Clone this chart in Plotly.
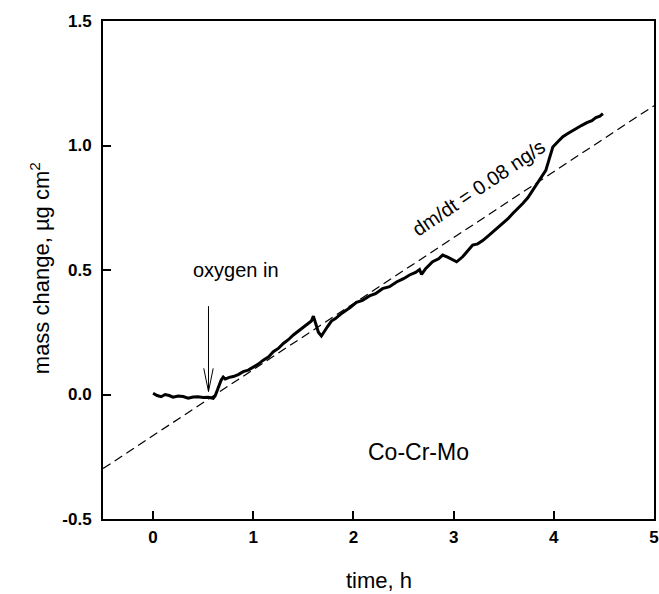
import plotly.graph_objects as go

time_h = [0.00, 0.04, 0.08, 0.12, 0.16, 0.20, 0.25, 0.30, 0.35, 0.40,
          0.45, 0.50, 0.55, 0.60, 0.62, 0.64, 0.66, 0.68, 0.70, 0.72,
          0.76, 0.80, 0.85, 0.90, 0.95, 1.00, 1.05, 1.10, 1.15, 1.20,
          1.25, 1.30, 1.35, 1.40, 1.45, 1.50, 1.55, 1.58, 1.60, 1.62,
          1.65, 1.68, 1.71, 1.74, 1.78, 1.82, 1.87, 1.92, 1.97, 2.03,
          2.09, 2.16, 2.22, 2.29, 2.36, 2.43, 2.50, 2.56, 2.62, 2.66,
          2.68, 2.72, 2.79, 2.85, 2.89, 2.94, 2.99, 3.03, 3.09, 3.14,
          3.19, 3.24, 3.29, 3.34, 3.39, 3.44, 3.49, 3.54, 3.59, 3.64,
          3.69, 3.74, 3.79, 3.85, 3.89, 3.92, 3.95, 3.99, 4.04, 4.09,
          4.14, 4.19, 4.24, 4.28, 4.33, 4.38, 4.42, 4.46, 4.49]
mass_change = [0.005, -0.004, -0.009, 0.000, -0.004, -0.011, -0.006, -0.008, -0.015, -0.010,
               -0.009, -0.012, -0.011, -0.015, -0.005, 0.018, 0.040, 0.058, 0.070, 0.062,
               0.069, 0.072, 0.080, 0.092, 0.098, 0.109, 0.122, 0.138, 0.150, 0.172,
               0.185, 0.205, 0.220, 0.239, 0.255, 0.272, 0.286, 0.295, 0.315, 0.290,
               0.250, 0.235, 0.255, 0.272, 0.295, 0.305, 0.322, 0.335, 0.350, 0.370,
               0.378, 0.396, 0.405, 0.425, 0.433, 0.452, 0.465, 0.480, 0.490, 0.502,
               0.482, 0.505, 0.533, 0.545, 0.560, 0.552, 0.540, 0.533, 0.553, 0.578,
               0.600, 0.605, 0.618, 0.635, 0.653, 0.668, 0.687, 0.705, 0.727, 0.745,
               0.767, 0.790, 0.820, 0.860, 0.880, 0.900, 0.940, 0.994, 1.015, 1.035,
               1.048, 1.061, 1.072, 1.081, 1.092, 1.100, 1.112, 1.118, 1.128]

# linear rate line dm/dt
fit_slope = 0.265
fit_intercept = -0.165
fit_x = [-0.5, 5.0]
fit_y = [fit_intercept + fit_slope * t for t in fit_x]

x_ticks = [0, 1, 2, 3, 4, 5]
y_ticks = [-0.5, 0.0, 0.5, 1.0, 1.5]
y_ticklabels = ["-0.5", "0.0", "0.5", "1.0", "1.5"]

oxygen_time = 0.553

FONT = "Liberation Sans, Arial, sans-serif"

fig = go.Figure()

fig.add_trace(go.Scatter(
    x=fit_x, y=fit_y, mode="lines",
    line=dict(color="black", width=1.2, dash="9px,5px"),
    showlegend=False, hoverinfo="skip",
))

fig.add_trace(go.Scatter(
    x=time_h, y=mass_change, mode="lines",
    line=dict(color="black", width=3),
    showlegend=False,
))

# "oxygen in" arrow (open V head)
fig.add_shape(
    type="path",
    path=(f"M {oxygen_time},0.355 L {oxygen_time},0.012 "
          f"M {oxygen_time - 0.047},0.105 L {oxygen_time},0.012 L {oxygen_time + 0.047},0.105"),
    line=dict(color="black", width=1),
)

fig.add_annotation(x=0.825, y=0.50, text="oxygen in", showarrow=False,
                   font=dict(family=FONT, size=20, color="black"))
fig.add_annotation(x=3.245, y=0.83, text="dm/dt = 0.08 ng/s", showarrow=False,
                   textangle=-34, font=dict(family=FONT, size=20, color="black"))
fig.add_annotation(x=2.65, y=-0.23, text="Co-Cr-Mo", showarrow=False,
                   font=dict(family=FONT, size=23, color="black"))

# axis titles
fig.add_annotation(xref="paper", yref="paper", x=0.5, y=-0.124, yanchor="middle",
                   text="time, h", showarrow=False,
                   font=dict(family=FONT, size=22, color="black"))
fig.add_annotation(xref="paper", yref="paper", x=-0.114, y=0.504, xanchor="center",
                   text="mass change, µg cm<sup>2</sup>", showarrow=False, textangle=-90,
                   font=dict(family=FONT, size=22, color="black"))

axis_common = dict(
    showline=True, linecolor="black", linewidth=2, mirror=True,
    ticks="inside", ticklen=8, tickwidth=1.5, tickcolor="black",
    showgrid=False, zeroline=False, automargin=False,
    ticklabeloverflow="allow",
    tickfont=dict(family=FONT, size=17, color="black", weight="bold"),
)

fig.update_xaxes(range=[-0.5, 5], tickvals=x_ticks, ticklabelstandoff=2, **axis_common)
fig.update_yaxes(range=[-0.5, 1.5], tickvals=y_ticks, ticktext=y_ticklabels,
                 ticklabelstandoff=6, **axis_common)

fig.update_layout(
    width=659, height=594,
    margin=dict(l=103, r=5, t=21, b=75),
    plot_bgcolor="white", paper_bgcolor="white",
    showlegend=False,
)

# drop the default page margin so the figure fills the window exactly
fig.write_html(
    "out.html",
    config={"displayModeBar": False},
    post_script="document.body.style.margin='0';document.body.style.overflow='hidden';",
)
